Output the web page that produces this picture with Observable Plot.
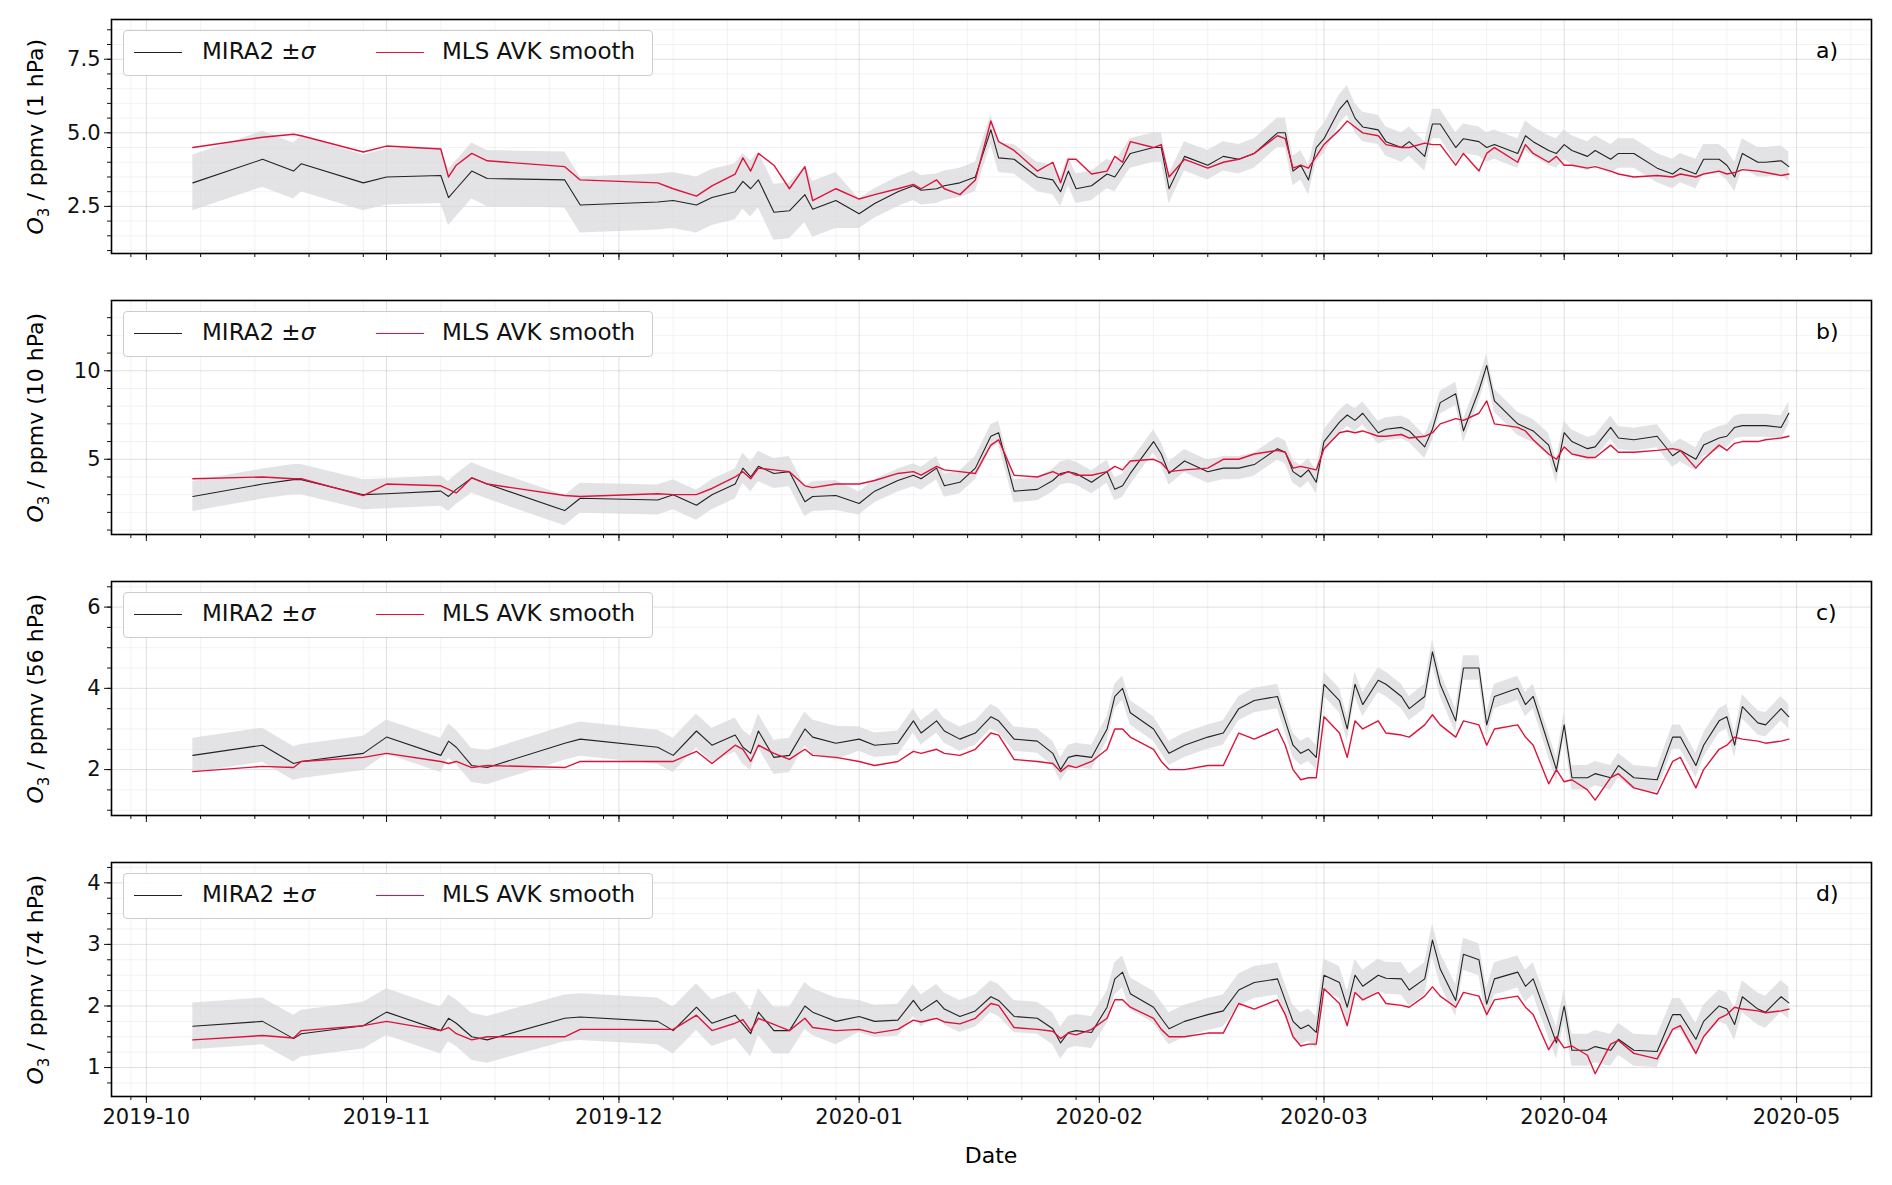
<!DOCTYPE html>
<html><head><meta charset="utf-8">
<script src="https://cdn.jsdelivr.net/npm/d3@7"></script>
<script src="https://cdn.jsdelivr.net/npm/@observablehq/plot@0.6"></script>
<style>
body{margin:0;background:#fff;font-family:"DejaVu Sans",sans-serif;}
#wrap{position:relative;width:1892px;height:1185px;}
.leg{position:absolute;background:rgba(255,255,255,0.9);border:1.5px solid #ccc;border-radius:4px;font-size:23px;color:#111;}
.ylab{position:absolute;font-size:22px;transform:rotate(-90deg);transform-origin:center;white-space:nowrap;text-align:center;width:240px;}
.pl{position:absolute;font-size:22px;}
</style></head><body><div id="wrap"></div>
<script>
const dates = ["2019-10-07","2019-10-16","2019-10-20","2019-10-21","2019-10-29","2019-11-01","2019-11-08","2019-11-09","2019-11-10","2019-11-12","2019-11-14","2019-11-24","2019-11-26","2019-12-06","2019-12-08","2019-12-11","2019-12-13","2019-12-16","2019-12-17","2019-12-18","2019-12-19","2019-12-21","2019-12-23","2019-12-25","2019-12-26","2019-12-29",
"2020-01-01","2020-01-03","2020-01-06","2020-01-08","2020-01-09","2020-01-11","2020-01-12","2020-01-14","2020-01-16","2020-01-18","2020-01-19","2020-01-21","2020-01-24","2020-01-26","2020-01-27","2020-01-28","2020-01-29","2020-01-31",
"2020-02-02","2020-02-03","2020-02-04","2020-02-05","2020-02-08","2020-02-09","2020-02-10","2020-02-12","2020-02-15","2020-02-17","2020-02-19","2020-02-21","2020-02-24","2020-02-25","2020-02-26","2020-02-27","2020-02-28","2020-02-29",
"2020-03-01","2020-03-03","2020-03-04","2020-03-05","2020-03-06","2020-03-08","2020-03-09","2020-03-11","2020-03-12","2020-03-14","2020-03-15","2020-03-16","2020-03-18","2020-03-19","2020-03-21","2020-03-22","2020-03-23","2020-03-26","2020-03-27","2020-03-28","2020-03-30","2020-03-31",
"2020-04-01","2020-04-02","2020-04-04","2020-04-05","2020-04-07","2020-04-08","2020-04-10","2020-04-13","2020-04-15","2020-04-16","2020-04-18","2020-04-19","2020-04-21","2020-04-22","2020-04-23","2020-04-24","2020-04-26","2020-04-27","2020-04-29","2020-04-30"];

const miraA = [3.3,4.1,3.7,3.95,3.3,3.5,3.55,2.8,3.1,3.7,3.45,3.4,2.55,2.65,2.7,2.55,2.8,3.0,3.35,3.1,3.4,2.3,2.35,2.9,2.4,2.7,
2.25,2.6,3.0,3.2,3.05,3.1,3.2,3.3,3.5,5.1,4.15,4.1,3.5,3.4,3.0,3.7,3.1,3.2,
3.6,3.5,3.9,4.3,4.5,4.5,3.1,4.2,3.9,4.2,4.1,4.3,5.0,5.0,3.7,3.9,3.4,4.5,
4.8,5.8,6.1,5.5,5.2,5.1,4.7,4.5,4.7,4.2,5.3,5.3,4.5,4.8,4.7,4.5,4.6,4.3,4.9,4.7,4.4,4.3,
4.6,4.4,4.2,4.4,4.1,4.3,4.3,3.8,3.6,3.8,3.6,4.1,4.1,3.9,3.5,4.3,4.0,4.0,4.05,3.85];
const mlsA = [4.5,4.85,4.95,4.9,4.35,4.55,4.45,3.5,3.9,4.3,4.05,3.85,3.4,3.3,3.1,2.85,3.2,3.6,4.15,3.7,4.3,3.9,3.1,3.85,2.7,3.1,
2.75,2.9,3.1,3.25,3.1,3.4,3.1,2.9,3.4,5.4,4.7,4.4,3.7,4.0,3.3,4.1,4.1,3.6,
3.7,4.2,4.0,4.7,4.5,4.6,3.5,4.1,3.8,4.0,4.1,4.3,4.9,4.8,3.8,3.9,3.8,4.2,
4.6,5.1,5.4,5.2,5.0,4.9,4.6,4.5,4.5,4.65,4.6,4.6,3.9,4.3,3.7,4.3,4.5,4.0,4.6,4.3,4.0,4.2,
3.9,3.9,3.8,3.85,3.7,3.6,3.5,3.55,3.5,3.6,3.5,3.6,3.7,3.6,3.65,3.75,3.7,3.65,3.55,3.6];
const miraB = [2.9,3.6,3.85,3.85,3.0,3.05,3.2,2.9,3.3,3.95,3.6,2.1,2.8,2.7,3.0,2.4,3.0,3.6,4.5,4.0,4.6,4.2,4.3,2.6,2.9,2.95,
2.5,3.2,3.8,4.1,3.9,4.5,3.5,3.7,4.5,6.3,6.5,3.2,3.3,3.8,4.2,4.3,4.2,3.7,
4.3,3.3,3.5,4.2,6.0,5.3,4.2,4.9,4.3,4.5,4.5,4.7,5.6,5.4,4.3,4.0,4.4,3.7,
6.0,7.1,7.5,7.2,7.6,6.5,6.7,6.8,6.6,5.7,6.7,8.2,8.7,6.6,8.9,10.3,8.3,7.0,6.8,6.6,5.8,4.3,
6.5,6.0,5.6,5.7,6.8,6.2,6.1,6.3,5.2,5.5,5.0,5.8,6.2,6.3,6.8,6.9,6.9,6.9,6.8,7.6];
const mlsB = [3.9,4.0,3.9,3.9,2.95,3.6,3.5,3.3,3.1,3.95,3.6,2.95,2.9,3.05,3.0,3.0,3.35,4.0,4.3,3.9,4.5,4.4,4.3,3.5,3.4,3.6,
3.6,3.8,4.2,4.3,4.1,4.6,4.4,4.3,4.2,5.8,6.1,4.1,4.0,4.3,4.1,4.3,4.1,4.1,
4.3,4.6,4.4,4.9,5.0,4.8,4.3,4.4,4.5,5.0,5.0,5.3,5.5,5.4,4.5,4.6,4.5,4.4,
5.6,6.5,6.6,6.5,6.6,6.3,6.3,6.4,6.2,6.3,6.5,7.0,7.3,7.2,7.6,8.3,7.0,6.8,6.6,6.1,5.3,5.0,
5.7,5.3,5.1,5.1,5.8,5.4,5.4,5.5,5.6,5.5,4.5,5.0,5.8,5.5,5.9,6.0,6.0,6.1,6.2,6.3];
const miraC = [2.35,2.6,2.15,2.2,2.4,2.8,2.35,2.7,2.55,2.1,2.05,2.65,2.75,2.55,2.35,2.95,2.6,2.85,2.55,2.4,2.95,2.3,2.35,3.0,2.8,2.65,
2.75,2.6,2.65,3.2,2.9,3.2,2.95,2.75,2.9,3.3,3.2,2.75,2.7,2.4,2.0,2.3,2.35,2.3,
3.0,3.8,4.0,3.4,3.0,2.7,2.4,2.6,2.8,2.9,3.5,3.7,3.8,3.2,2.6,2.4,2.5,2.3,
4.1,3.7,3.0,4.1,3.6,4.2,4.1,3.8,3.5,3.8,4.9,4.1,3.2,4.5,4.5,3.1,3.8,4.0,3.6,3.8,2.6,2.0,
3.1,1.8,1.8,1.9,1.8,2.1,1.8,1.75,2.8,2.8,2.1,2.6,3.2,3.3,2.6,3.55,3.15,3.1,3.5,3.3];
const mlsC = [1.95,2.08,2.05,2.2,2.3,2.4,2.2,2.15,2.2,2.05,2.1,2.05,2.2,2.2,2.2,2.45,2.15,2.6,2.5,2.2,2.6,2.4,2.25,2.5,2.35,2.3,
2.2,2.1,2.2,2.45,2.4,2.5,2.4,2.35,2.5,2.9,2.85,2.25,2.2,2.15,1.95,2.1,2.05,2.2,
2.5,3.0,3.0,2.8,2.5,2.2,2.0,2.0,2.1,2.1,2.9,2.75,3.0,2.6,2.0,1.75,1.8,1.8,
3.3,2.9,2.3,3.2,3.0,3.2,2.9,2.85,2.8,3.1,3.35,3.1,2.8,3.2,3.1,2.6,3.0,3.1,2.8,2.6,1.65,2.0,
1.7,1.75,1.5,1.25,1.8,1.9,1.55,1.4,2.2,2.3,1.55,2.0,2.5,2.6,2.8,2.75,2.7,2.65,2.7,2.75];
const miraD = [1.67,1.75,1.47,1.55,1.68,1.9,1.6,1.8,1.72,1.5,1.45,1.8,1.82,1.75,1.6,1.98,1.72,1.85,1.7,1.55,1.9,1.6,1.6,2.0,1.9,1.75,
1.83,1.75,1.77,2.09,1.92,2.09,1.95,1.83,1.92,2.15,2.09,1.83,1.8,1.63,1.4,1.57,1.6,1.57,
1.98,2.44,2.55,2.2,1.98,1.8,1.63,1.75,1.86,1.92,2.26,2.38,2.44,2.09,1.75,1.63,1.69,1.57,
2.5,2.38,1.98,2.5,2.32,2.5,2.45,2.44,2.26,2.44,3.07,2.6,2.09,2.84,2.75,2.03,2.44,2.55,2.32,2.44,1.75,1.4,
2.0,1.28,1.28,1.34,1.28,1.46,1.28,1.26,1.86,1.86,1.46,1.75,2.0,1.95,1.7,2.15,1.95,1.9,2.15,2.05];
const mlsD = [1.45,1.52,1.48,1.6,1.68,1.75,1.6,1.65,1.55,1.45,1.5,1.5,1.62,1.62,1.62,1.85,1.6,1.72,1.78,1.6,1.8,1.7,1.6,1.8,1.65,1.6,
1.62,1.56,1.62,1.77,1.74,1.8,1.74,1.71,1.8,2.04,2.01,1.65,1.62,1.59,1.47,1.56,1.53,1.62,
1.8,2.1,2.1,1.98,1.8,1.62,1.5,1.5,1.56,1.56,2.04,1.95,2.1,1.86,1.5,1.35,1.38,1.38,
2.28,2.04,1.68,2.22,2.1,2.22,2.04,2.01,1.98,2.16,2.31,2.16,1.98,2.22,2.16,1.86,2.1,2.16,1.98,1.86,1.29,1.5,
1.32,1.35,1.2,0.9,1.38,1.44,1.23,1.14,1.62,1.68,1.23,1.5,1.8,1.86,1.98,1.95,1.92,1.89,1.92,1.95];
// sigma: [2019, 2020]
const sigA = [0.95, 0.5], sigB = [0.85, 0.65], sigC = [0.42, 0.3], sigD = [0.38, 0.26];
const panels = [
 {mira:miraA, mls:mlsA, sig:sigA, dom:[0.9,8.85], ticks:[2.5,5.0,7.5], minor:0.5, fmt:d3.format(".1f"), p:"1 hPa", lab:"a)"},
 {mira:miraB, mls:mlsB, sig:sigB, dom:[0.75,13.97], ticks:[5,10], minor:1, fmt:d3.format("d"), p:"10 hPa", lab:"b)"},
 {mira:miraC, mls:mlsC, sig:sigC, dom:[0.87,6.63], ticks:[2,4,6], minor:0.5, fmt:d3.format("d"), p:"56 hPa", lab:"c)"},
 {mira:miraD, mls:mlsD, sig:sigD, dom:[0.53,4.33], ticks:[1,2,3,4], minor:0.25, fmt:d3.format("d"), p:"74 hPa", lab:"d)"}
];
const wrap = document.getElementById("wrap");
const xdom = [new Date(Date.UTC(2019,8,26,12)), new Date(Date.UTC(2020,4,10,16))];
const months = d3.utcMonth.range(new Date(Date.UTC(2019,9,1)), new Date(Date.UTC(2020,4,2)));
const weeks = d3.utcDay.every(7).range(xdom[0], xdom[1]);
panels.forEach((P,i)=>{
  const last = i===3;
  const data = dates.map((d,k)=>{
    const t = new Date(d+"T00:00:00Z");
    const s = d < "2020" ? P.sig[0] : P.sig[1];
    return {t, m:P.mira[k], l:P.mls[k], lo:P.mira[k]-s, hi:P.mira[k]+s};
  });
  const minorT = d3.range(Math.ceil(P.dom[0]/P.minor)*P.minor, P.dom[1], P.minor);
  const ch = Plot.plot({
    width:1892, height:last?342:281, marginLeft:111, marginRight:21, marginTop:19, marginBottom:last?89:28,
    style:{fontFamily:"DejaVu Sans", fontSize:"21px", color:"#111", background:"transparent"},
    x:{type:"utc", domain:xdom},
    y:{domain:P.dom},
    marks:[
      Plot.gridX(weeks,{stroke:"#000",strokeOpacity:0.05}),
      Plot.gridY(minorT,{stroke:"#000",strokeOpacity:0.05}),
      Plot.gridX(months,{stroke:"#000",strokeOpacity:0.08}),
      Plot.gridY(P.ticks,{stroke:"#000",strokeOpacity:0.08}),
      Plot.areaY(data,{x:"t",y1:"lo",y2:"hi",fill:"#d9d9dd",fillOpacity:0.75}),
      Plot.lineY(data,{x:"t",y:"m",stroke:"#222",strokeWidth:1.1}),
      Plot.lineY(data,{x:"t",y:"l",stroke:"#dc143c",strokeWidth:1.4}),
      Plot.axisY(minorT,{tickSize:4,tickFormat:()=>"",label:null}),
      Plot.axisY(P.ticks,{tickSize:7,tickFormat:P.fmt,label:null,fontSize:21,tickPadding:4}),
      Plot.axisX(weeks,{tickSize:4,tickFormat:()=>"",label:null}),
      Plot.axisX(months,{tickSize:7,tickFormat:last?d3.utcFormat("%Y-%m"):()=>"",label:null,fontSize:21,tickPadding:6}),
      Plot.frame({stroke:"#000",strokeWidth:1.6})
    ]
  });
  ch.style.position="absolute"; ch.style.left="0px"; ch.style.top=(i*281)+"px";
  wrap.appendChild(ch);
  const top = i*281;
  const leg = document.createElement("div");
  leg.className="leg";
  leg.style.cssText += `left:123px;top:${top+30}px;width:528px;height:44px;`;
  leg.innerHTML = `<div style="position:absolute;left:10px;top:21px;width:48px;border-top:1.3px solid #222"></div>
  <div style="position:absolute;left:78px;top:7px">MIRA2 ±<i>σ</i></div>
  <div style="position:absolute;left:252px;top:21px;width:48px;border-top:1.6px solid #dc143c"></div>
  <div style="position:absolute;left:318px;top:7px">MLS AVK smooth</div>`;
  wrap.appendChild(leg);
  const yl = document.createElement("div");
  yl.className="ylab";
  yl.style.left=(38-120)+"px"; yl.style.top=(top+19+117-14)+"px";
  yl.innerHTML = `<i>O</i><sub style="font-size:15px">3</sub> / ppmv (${P.p})`;
  wrap.appendChild(yl);
  const pl = document.createElement("div");
  pl.className="pl"; pl.style.left="1816px"; pl.style.top=(top+38)+"px"; pl.textContent=P.lab;
  wrap.appendChild(pl);
});
const xl = document.createElement("div");
xl.style.cssText="position:absolute;left:0;width:1892px;padding-left:90px;box-sizing:border-box;text-align:center;top:1143px;font-size:22px;";
xl.textContent="Date";
wrap.appendChild(xl);
</script></body></html>
